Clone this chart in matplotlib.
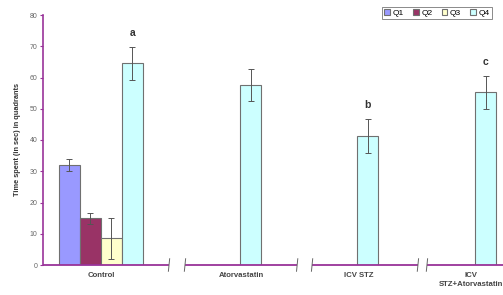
import matplotlib
matplotlib.use("Agg")
import matplotlib.pyplot as plt
import numpy as np

plt.rcParams["font.family"] = ["Liberation Sans", "DejaVu Sans"]

groups = ["Control", "Atorvastatin", "ICV STZ", "ICV\nSTZ+Atorvastatin"]
series = ["Q1", "Q2", "Q3", "Q4"]
# values per series across groups (NaN = not shown)
q1 = [32.0, np.nan, np.nan, np.nan]
q2 = [15.0, np.nan, np.nan, np.nan]
q3 = [8.5, np.nan, np.nan, np.nan]
q4 = [64.5, 57.6, 41.3, 55.3]
q1_err = [1.8, np.nan, np.nan, np.nan]
q2_err = [1.8, np.nan, np.nan, np.nan]
q3_err = [6.6, np.nan, np.nan, np.nan]
q4_err = [5.4, 5.2, 5.4, 5.3]
letters = ["a", "", "b", "c"]
yticks = [0, 10, 20, 30, 40, 50, 60, 70, 80]

colors = ["#9999FF", "#993366", "#FFFFCC", "#CCFFFF"]
purple = "#993399"

fig = plt.figure(figsize=(5.03, 2.95), dpi=100)
ax = fig.add_axes([43/503, 1-265/295, 1-43/503, 250/295])

offsets = np.array([0.0, 5.62, 11.21, 16.81])
vals = [q1, q2, q3, q4]
errs = [q1_err, q2_err, q3_err, q4_err]
w = 1.0
for i, (v, e) in enumerate(zip(vals, errs)):
    x = offsets + i * w
    ax.bar(x, v, width=w, color=colors[i], edgecolor="#707070", linewidth=0.8,
           label=series[i], zorder=2)
    ax.errorbar(x, v, yerr=e, fmt="none", ecolor="#555555", elinewidth=0.7,
                capsize=2, capthick=0.7, zorder=3)

for j, (lt, v, e) in enumerate(zip(letters, q4, q4_err)):
    if lt:
        ax.text(offsets[j] + 3 * w, v + e + 4.5, lt, ha="center", va="center",
                fontsize=7.5, fontweight="bold", color="#333333")

ax.set_xlim(-1.26, 20.64)
ax.set_ylim(0, 80)
ax.set_yticks(yticks)
ax.tick_params(axis="y", labelsize=5, labelcolor="#666666", color=purple,
               length=2, width=0.8, pad=2)

# x tick labels
label_pos = [offsets[0] + 1.5, offsets[1] + 2.55, offsets[2] + 2.55, offsets[3] + 2.3]
ax.set_xticks(label_pos)
ax.set_xticklabels(groups, fontsize=5.6, fontweight="bold", color="#444444",
                   linespacing=1.5)
ax.tick_params(axis="x", length=0, pad=5)

for s in ["top", "right"]:
    ax.spines[s].set_visible(False)
ax.spines["left"].set_color(purple)
ax.spines["left"].set_linewidth(1.2)
ax.spines["bottom"].set_visible(False)

# broken x-axis
breaks = [(4.74, 5.50), (10.84, 11.55), (16.59, 17.02)]
xmin, xmax = ax.get_xlim()
starts = [xmin] + [b[1] for b in breaks]
ends = [b[0] for b in breaks] + [xmax]
for s, e in zip(starts, ends):
    ax.plot([s, e], [0, 0], color=purple, lw=1.3, clip_on=False, zorder=4,
            solid_capstyle="butt")
trans = ax.get_xaxis_transform()
for b in breaks:
    for xb in b:
        ax.plot([xb - 0.03, xb + 0.03], [-0.025, 0.025], transform=trans,
                color="#666666", lw=0.7, clip_on=False, zorder=5)

ax.set_ylabel("Time spent (in sec) in quadrants", fontsize=5.3,
              fontweight="bold", color="#333333", labelpad=6)

leg = ax.legend(loc="upper right", bbox_to_anchor=(1.0 - 7/460, 1 + 12/250),
                ncol=4, fontsize=6, frameon=True, fancybox=False,
                handlelength=0.7, handleheight=0.7, handletextpad=0.3,
                columnspacing=1.1, borderpad=0.25, edgecolor="#555555")
leg.get_frame().set_linewidth(0.6)

fig.savefig("out.png", dpi=100)
